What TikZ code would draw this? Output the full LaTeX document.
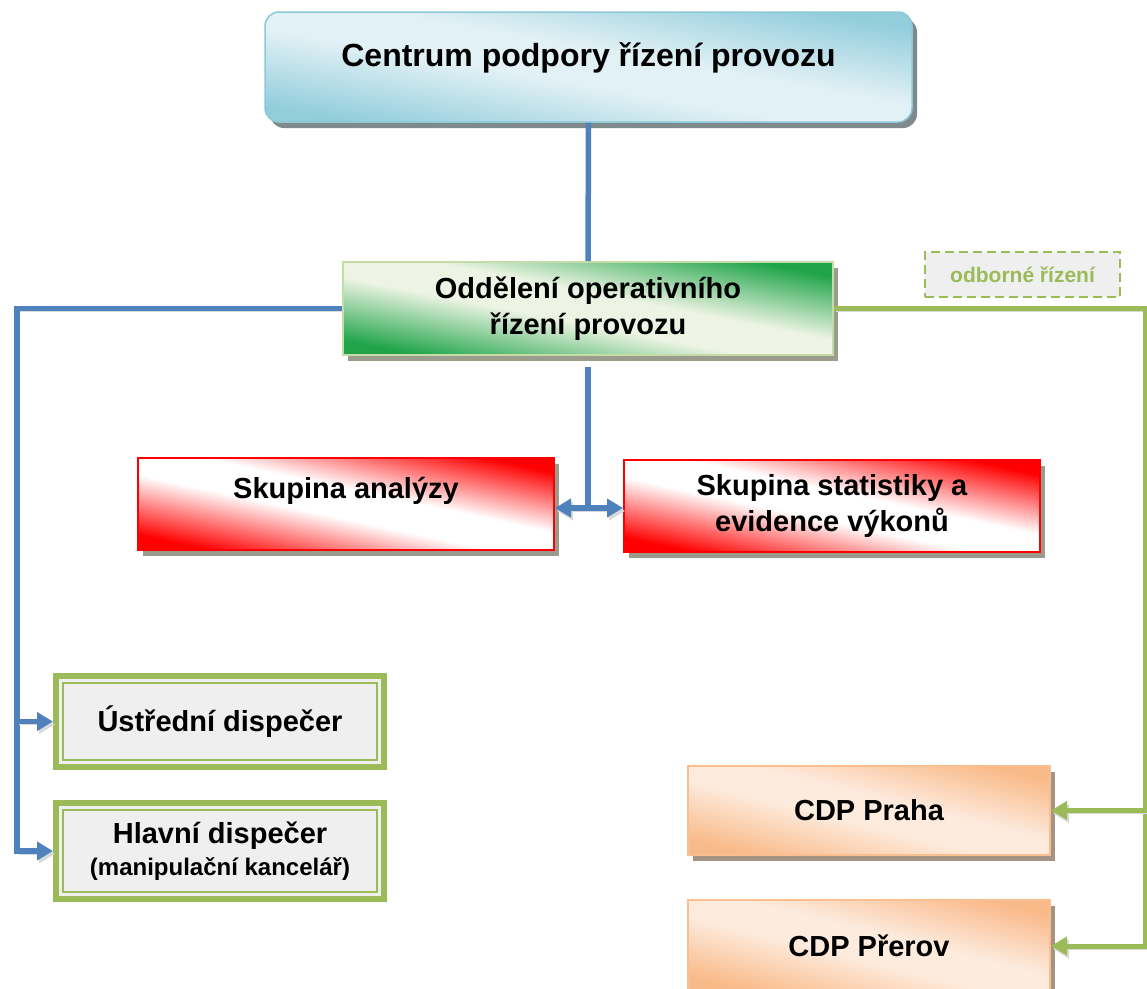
\documentclass[tikz,border=0pt]{standalone}
\usepackage{fontspec}
\setmainfont{Liberation Sans}
\usepackage{xcolor}
\usetikzlibrary{shadows,arrows.meta}
\definecolor{cpdark}{HTML}{92CDDC}
\definecolor{cplight}{HTML}{E2F1F5}
\definecolor{cpline}{HTML}{8CC8D8}
\definecolor{cpshadow}{HTML}{7F8A8D}
\definecolor{odddark}{HTML}{1FA449}
\definecolor{oddlight}{HTML}{EEF4E4}
\definecolor{oddline}{HTML}{C6DCA8}
\definecolor{oddshadow}{HTML}{9A9C8C}
\definecolor{reddark}{HTML}{FF0000}
\definecolor{redlight}{HTML}{FFFFFF}
\definecolor{redshadow}{HTML}{9A9B8B}
\definecolor{cdpdark}{HTML}{F9BA8A}
\definecolor{cdplight}{HTML}{FDEBDD}
\definecolor{cdpline}{HTML}{F9BF90}
\definecolor{cdpshadow}{HTML}{A59484}
\definecolor{lineblue}{HTML}{4F81BD}
\definecolor{linegreen}{HTML}{9BBB59}
\definecolor{lineshadow}{HTML}{D9D9D9}
\definecolor{dispfill}{HTML}{EFEFEF}
\newcommand{\glossshading}[3]{\pgfdeclareverticalshading{#1}{100bp}{color(0bp)=(#2);
    color(25bp)=(#2); color(36bp)=(#2!45!#3); color(45bp)=(#3); color(55bp)=(#3);
    color(64bp)=(#2!45!#3); color(75bp)=(#2); color(100bp)=(#2)}}
\glossshading{cpgloss}{cpdark}{cplight}
\glossshading{oddgloss}{odddark}{oddlight}
\glossshading{redgloss}{reddark}{redlight}
\glossshading{cdpgloss}{cdpdark}{cdplight}
\tikzstyle{bigfont} = [font=\fontsize{29}{36}\selectfont\bfseries]
\tikzstyle{centrumbox} = [rectangle, rounded corners=14pt, draw=cpline, line width=1.5pt,
    shade, shading=cpgloss, shading angle=-10,
    drop shadow={shadow xshift=5pt, shadow yshift=-6pt, fill=cpshadow, opacity=1},
    minimum width=647pt, minimum height=110pt, inner sep=0pt,
    font=\fontsize{32}{38}\selectfont\bfseries, text height=23pt, text depth=24pt]
\tikzstyle{oddbox} = [rectangle, draw=oddline, line width=2pt,
    shade, shading=oddgloss, shading angle=-11,
    drop shadow={shadow xshift=5pt, shadow yshift=-6pt, fill=oddshadow, opacity=1},
    minimum width=490pt, minimum height=93pt, inner sep=0pt, align=center, bigfont]
\tikzstyle{redbox} = [rectangle, draw=red, line width=2pt,
    shade, shading=redgloss, shading angle=-12,
    drop shadow={shadow xshift=5pt, shadow yshift=-6pt, fill=redshadow, opacity=1},
    minimum width=416pt, minimum height=92pt, inner sep=0pt, align=center, bigfont]
\tikzstyle{dispbox} = [rectangle, draw=linegreen, line width=6pt, fill=dispfill,
    minimum width=328pt, inner sep=0pt, align=center, bigfont]
\tikzstyle{dispinner} = [draw=linegreen, line width=2pt]
\tikzstyle{cdpbox} = [rectangle, draw=cdpline, line width=2pt,
    shade, shading=cdpgloss, shading angle=-14,
    drop shadow={shadow xshift=5pt, shadow yshift=-6pt, fill=cdpshadow, opacity=1},
    minimum width=362pt, inner sep=0pt, bigfont]
\tikzstyle{odbbox} = [rectangle, draw=linegreen, dashed, dash pattern=on 9pt off 5pt,
    line width=2.5pt, fill=dispfill, text=linegreen, minimum width=195pt,
    minimum height=45pt, inner sep=0pt, font=\fontsize{21}{25}\selectfont\bfseries]
\tikzstyle{lineshade} = [preaction={draw=lineshadow, transform canvas={xshift=2pt,yshift=-3pt}}]
\tikzstyle{blueline} = [draw=lineblue, line width=5.5pt, lineshade]
\tikzstyle{greenline} = [draw=linegreen, line width=5pt, lineshade]
\tikzstyle{tip} = [-{Triangle[width=18pt,length=16pt]}]

\begin{document}
\begin{tikzpicture}[x=1pt, y=-1pt]
\useasboundingbox (0,0) rectangle (1147,988);

\node[centrumbox] (cpr) at (588.5,67) {Centrum podpory řízení provozu};
\node[oddbox] (odd) at (588,308.5) {Oddělení operativního\\řízení provozu};
\node[odbbox] (odb) at (1022.5,274.5) {odborné řízení};

\node[redbox, text height=21pt, text depth=32pt] (ana) at (346,503.5) {Skupina analýzy};
\node[redbox] (stat) at (832,506) {Skupina statistiky a\\evidence výkonů};

\node[dispbox, minimum height=91pt] (ust) at (220,721.5) {Ústřední dispečer};
\node[dispbox, minimum height=96pt] (hlav) at (220,851) {Hlavní dispečer\\[-4pt]
    {\fontsize{24}{28}\selectfont (manipulační kancelář)}};
\draw[dispinner] ([shift={(10pt,-10pt)}]ust.north west) rectangle ([shift={(-10pt,10pt)}]ust.south east);
\draw[dispinner] ([shift={(10pt,-10pt)}]hlav.north west) rectangle ([shift={(-10pt,10pt)}]hlav.south east);

\node[cdpbox, minimum height=89pt] (praha) at (869,810.5) {CDP Praha};
\node[cdpbox, minimum height=92pt] (prerov) at (869,946) {CDP Přerov};

\coordinate (lrail) at (17,0);
\coordinate (rrail) at (1145,0);
\coordinate (midc) at (588,508);

\draw[blueline] (cpr.south) -- (odd.north);
\draw[blueline] ([yshift=-11pt]odd.south) -- (midc);
\draw[blueline, {Triangle[width=18pt,length=16pt]}-{Triangle[width=18pt,length=16pt]}]
    (ana.east |- midc) -- (stat.west |- midc);
\draw[blueline, tip] (odd.west) -- (odd.west -| lrail) |- (hlav.west);
\draw[blueline, tip] (lrail |- ust.west) -- (ust.west);
\draw[greenline, tip] (odd.east) -- (odd.east -| rrail) |- (prerov.east);
\draw[greenline, tip] (rrail |- praha.east) -- (praha.east);
\end{tikzpicture}
\end{document}
